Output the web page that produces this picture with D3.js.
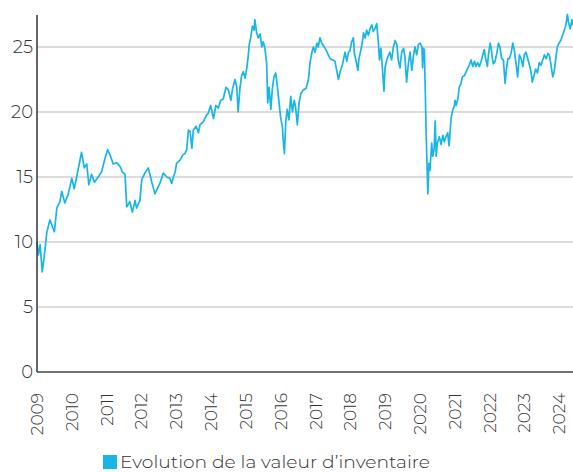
<!DOCTYPE html>
<meta charset="utf-8">
<body style="margin:0;background-color:white;">
<svg width="573" height="472"></svg>
<script src="https://d3js.org/d3.v7.min.js"></script>
<script>

// decimal year of each reading
var years = [
  2009.00, 2009.04, 2009.09, 2009.15, 2009.21, 2009.28, 2009.37, 2009.44, 2009.50, 2009.57,
  2009.66, 2009.71, 2009.80, 2009.90, 2010.00, 2010.07, 2010.14, 2010.28, 2010.36, 2010.43,
  2010.49, 2010.57, 2010.65, 2010.76, 2010.86, 2010.95, 2011.03, 2011.10, 2011.19, 2011.29,
  2011.39, 2011.45, 2011.53, 2011.58, 2011.67, 2011.74, 2011.82, 2011.86, 2011.96, 2012.01,
  2012.10, 2012.20, 2012.30, 2012.39, 2012.44, 2012.53, 2012.63, 2012.73, 2012.82, 2012.87,
  2012.92, 2012.97, 2013.01, 2013.11, 2013.19, 2013.25, 2013.30, 2013.35, 2013.40, 2013.45,
  2013.49, 2013.57, 2013.64, 2013.68, 2013.78, 2013.88, 2013.92, 2013.99, 2014.07, 2014.14,
  2014.21, 2014.28, 2014.35, 2014.43, 2014.50, 2014.57, 2014.62, 2014.69, 2014.74, 2014.78,
  2014.83, 2014.88, 2014.93, 2014.98, 2015.03, 2015.07, 2015.10, 2015.14, 2015.19, 2015.24,
  2015.26, 2015.31, 2015.36, 2015.41, 2015.46, 2015.50, 2015.55, 2015.60, 2015.63, 2015.67,
  2015.72, 2015.76, 2015.81, 2015.86, 2015.91, 2015.95, 2016.00, 2016.05, 2016.08, 2016.11,
  2016.15, 2016.19, 2016.24, 2016.29, 2016.34, 2016.39, 2016.43, 2016.48, 2016.53, 2016.58,
  2016.65, 2016.73, 2016.80, 2016.84, 2016.89, 2016.94, 2016.99, 2017.04, 2017.08, 2017.13,
  2017.18, 2017.23, 2017.30, 2017.37, 2017.42, 2017.50, 2017.56, 2017.61, 2017.66, 2017.71,
  2017.78, 2017.85, 2017.90, 2017.95, 2017.99, 2018.04, 2018.09, 2018.12, 2018.17, 2018.22,
  2018.25, 2018.30, 2018.35, 2018.38, 2018.43, 2018.47, 2018.52, 2018.57, 2018.62, 2018.66,
  2018.71, 2018.76, 2018.81, 2018.84, 2018.88, 2018.92, 2018.97, 2019.00, 2019.05, 2019.09,
  2019.14, 2019.19, 2019.24, 2019.29, 2019.34, 2019.38, 2019.43, 2019.48, 2019.53, 2019.57,
  2019.62, 2019.67, 2019.72, 2019.77, 2019.81, 2019.86, 2019.91, 2019.96, 2020.01, 2020.06,
  2020.08, 2020.10, 2020.13, 2020.16, 2020.18, 2020.20, 2020.23, 2020.26, 2020.29, 2020.34,
  2020.37, 2020.41, 2020.44, 2020.47, 2020.50, 2020.56, 2020.61, 2020.66, 2020.70, 2020.75,
  2020.80, 2020.84, 2020.87, 2020.90, 2020.95, 2020.99, 2021.01, 2021.04, 2021.09, 2021.13,
  2021.18, 2021.22, 2021.28, 2021.33, 2021.38, 2021.42, 2021.47, 2021.52, 2021.57, 2021.61,
  2021.66, 2021.71, 2021.76, 2021.81, 2021.85, 2021.89, 2021.94, 2021.97, 2022.02, 2022.05,
  2022.08, 2022.11, 2022.16, 2022.21, 2022.26, 2022.30, 2022.35, 2022.40, 2022.45, 2022.48,
  2022.53, 2022.57, 2022.62, 2022.67, 2022.71, 2022.76, 2022.81, 2022.86, 2022.91, 2022.96,
  2023.00, 2023.05, 2023.10, 2023.15, 2023.20, 2023.23, 2023.28, 2023.33, 2023.38, 2023.43,
  2023.48, 2023.53, 2023.58, 2023.63, 2023.68, 2023.72, 2023.77, 2023.82, 2023.86, 2023.91,
  2023.95, 2024.00, 2024.05, 2024.10, 2024.14, 2024.19, 2024.24, 2024.27, 2024.32, 2024.37,
  2024.40
];

// valeur d'inventaire at those dates
var values = [
  10.0, 9.0, 9.8, 7.7, 8.9, 10.7, 11.7, 11.2, 10.8, 12.6,
  13.1, 13.9, 13.0, 13.7, 14.9, 14.1, 15.0, 16.9, 15.7, 16.0,
  14.4, 15.2, 14.6, 15.0, 15.4, 16.4, 17.1, 16.7, 16.0, 16.1,
  15.8, 15.4, 15.2, 12.7, 13.1, 12.3, 13.2, 12.6, 13.2, 14.8,
  15.3, 15.7, 14.6, 13.7, 14.0, 14.5, 15.3, 15.0, 14.9, 14.5,
  15.0, 15.4, 16.05, 16.3, 16.7, 16.8, 17.1, 18.6, 18.5, 17.2,
  18.6, 18.9, 18.4, 19.0, 19.25, 19.8, 19.9, 20.5, 19.5, 20.5,
  20.3, 20.9, 21.0, 21.9, 21.7, 20.9, 21.8, 22.5, 21.9, 20.0,
  21.8, 22.8, 23.1, 22.6, 23.4, 24.3, 25.2, 25.7, 26.6, 26.3,
  27.1, 26.1, 25.7, 26.0, 25.0, 25.4, 24.9, 23.7, 20.7, 21.9,
  20.2, 21.7, 22.7, 23.0, 21.9, 20.9, 19.6, 18.9, 17.7, 16.8,
  19.3, 20.2, 19.4, 21.2, 20.0, 20.9, 20.4, 19.0, 20.7, 21.4,
  21.7, 21.8, 22.5, 23.7, 24.5, 25.0, 24.6, 25.3, 25.0, 25.7,
  25.3, 25.1, 24.8, 24.4, 24.1, 24.0, 23.9, 23.2, 22.5, 23.1,
  23.7, 24.6, 23.9, 24.6, 24.7, 25.4, 25.7, 24.5, 23.9, 23.2,
  24.1, 24.7, 25.4, 26.1, 25.7, 26.3, 25.9, 26.4, 26.7, 26.2,
  26.4, 26.8, 25.3, 24.0, 24.9, 23.5, 21.6, 23.4, 24.0, 24.3,
  24.6, 24.0, 25.0, 25.5, 25.2, 24.0, 23.4, 24.6, 24.9, 24.3,
  22.3, 23.7, 24.6, 23.2, 24.2, 25.0, 24.4, 25.2, 25.3, 25.0,
  23.4, 24.9, 24.8, 21.2, 18.6, 16.6, 13.7, 16.05, 15.5, 17.6,
  16.6, 17.1, 19.3, 16.6, 17.6, 18.1, 17.5, 18.2, 17.7, 18.1,
  18.4, 17.4, 18.6, 19.6, 20.2, 20.5, 20.9, 20.5, 21.0, 21.9,
  22.2, 22.7, 22.8, 23.1, 23.4, 23.6, 24.0, 23.5, 23.9, 23.5,
  23.8, 23.5, 23.9, 24.4, 24.8, 24.1, 23.5, 24.4, 25.3, 24.9,
  24.2, 23.7, 23.9, 24.5, 25.3, 25.0, 24.1, 24.0, 22.2, 23.1,
  24.1, 24.1, 24.5, 25.3, 24.8, 23.8, 22.7, 24.4, 24.1, 23.5,
  24.4, 24.6, 24.1, 23.6, 23.0, 22.3, 22.8, 23.3, 23.0, 23.8,
  23.6, 24.0, 24.4, 24.1, 24.5, 24.4, 23.6, 22.7, 23.1, 24.2,
  25.0, 25.3, 25.5, 25.9, 26.2, 26.6, 27.5, 26.9, 26.4, 27.1,
  26.7
];

var yTicks = [0, 5, 10, 15, 20, 25];
var xTickYears = d3.range(2009, 2025);
var legendLabel = "Evolution de la valeur d\u2019inventaire";

var lineColor = "#17b6e6";
var textColor = "#333333";
var fontFamily = "Montserrat, 'Noto Sans', 'DejaVu Sans', sans-serif";

function yearToDate(t) {
  var yr = Math.floor(t);
  var start = new Date(yr, 0, 1), end = new Date(yr + 1, 0, 1);
  return new Date(start.getTime() + (t - yr) * (end - start));
}

var data = years.map(function(t, i) { return { date: yearToDate(t), value: values[i] }; });

var svg = d3.select("svg");
var plotLeft = 37, plotRight = 573, plotTop = 15, plotBottom = 372;

var x = d3.scaleTime()
  .domain([yearToDate(2009), yearToDate(2024.40)])
  .range([plotLeft, plotRight]);

var y = d3.scaleLinear()
  .domain([0, 27.46])
  .range([plotBottom, plotTop]);

// gridlines
svg.append("g")
  .selectAll("line")
  .data(yTicks.filter(function(d) { return d > 0; }))
  .join("line")
    .attr("x1", plotLeft).attr("x2", plotRight)
    .attr("y1", function(d) { return y(d); })
    .attr("y2", function(d) { return y(d); })
    .attr("stroke", "#dcdcdc")
    .attr("stroke-width", 2);

// y labels
svg.append("g")
  .selectAll("text")
  .data(yTicks)
  .join("text")
    .attr("x", 33)
    .attr("y", function(d) { return y(d); })
    .attr("dy", "0.36em")
    .attr("text-anchor", "end")
    .attr("fill", textColor)
    .style("font-family", fontFamily)
    .style("font-weight", 300)
    .style("font-size", "18px")
    .text(function(d) { return d; });

// x labels, rotated
svg.append("g")
  .selectAll("text")
  .data(xTickYears)
  .join("text")
    .attr("transform", function(d) { return "translate(" + x(new Date(d, 0, 1)) + ",393)rotate(-90)"; })
    .attr("dy", "0.36em")
    .attr("text-anchor", "end")
    .attr("fill", textColor)
    .style("font-family", fontFamily)
    .style("font-weight", 300)
    .style("font-size", "17px")
    .text(function(d) { return d; });

// the series
var line = d3.line()
  .x(function(d) { return x(d.date); })
  .y(function(d) { return y(d.value); });

svg.append("path")
  .datum(data)
  .attr("d", line)
  .attr("fill", "none")
  .attr("stroke", lineColor)
  .attr("stroke-width", 1.7)
  .attr("stroke-linejoin", "round");

// axes lines
svg.append("line")
  .attr("x1", plotLeft).attr("x2", plotLeft)
  .attr("y1", plotTop).attr("y2", plotBottom)
  .attr("stroke", "#333").attr("stroke-width", 1.5);
svg.append("line")
  .attr("x1", plotLeft).attr("x2", plotRight)
  .attr("y1", plotBottom).attr("y2", plotBottom)
  .attr("stroke", "#444").attr("stroke-width", 1.5);

// legend
var legend = svg.append("g").attr("transform", "translate(103,455)");
legend.append("rect")
  .attr("width", 14).attr("height", 14)
  .attr("fill", lineColor);
legend.append("text")
  .attr("x", 17)
  .attr("y", 13)
  .attr("fill", textColor)
  .attr("textLength", 310)
  .attr("lengthAdjust", "spacingAndGlyphs")
  .style("font-family", fontFamily)
  .style("font-weight", 300)
  .style("font-size", "17px")
  .text(legendLabel);

</script>
</body>
